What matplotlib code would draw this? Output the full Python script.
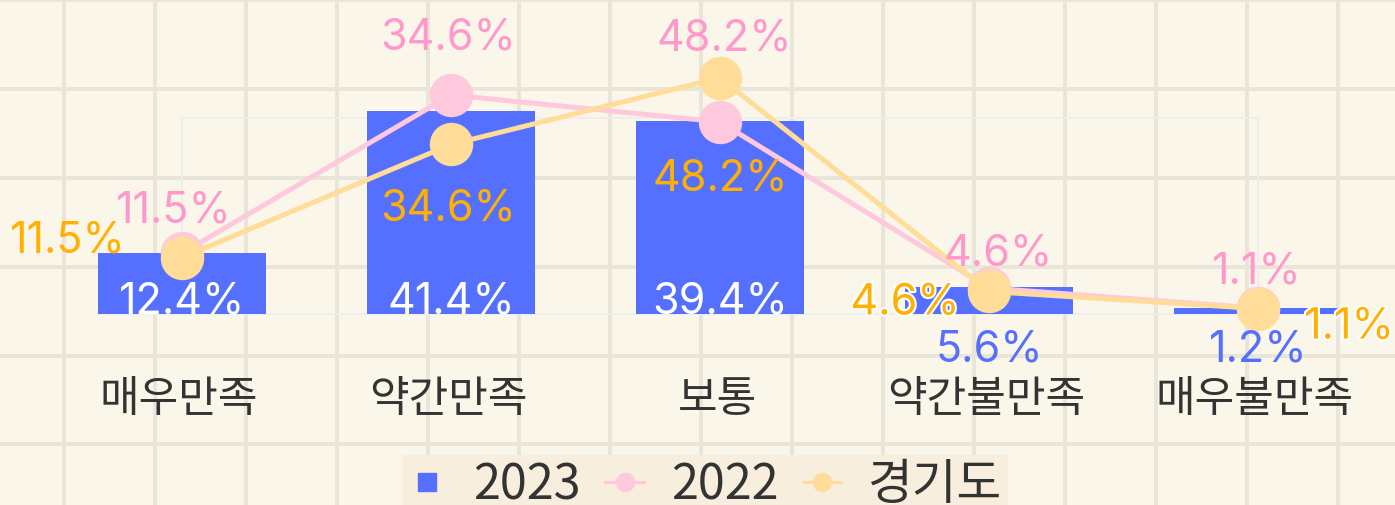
import matplotlib
matplotlib.use('Agg')
import matplotlib.pyplot as plt
from matplotlib.lines import Line2D
from matplotlib.font_manager import FontProperties
import matplotlib.patheffects as pe
import numpy as np

# ---------------- data ----------------
categories = ['매우만족', '약간만족', '보통', '약간불만족', '매우불만족']
values_2023 = [12.4, 41.4, 39.4, 5.6, 1.2]
values_2022 = [12.4, 44.7, 39.2, 5.3, 1.2]
labels_2022 = ['11.5%', '34.6%', '48.2%', '4.6%', '1.1%']
values_gg = [11.5, 34.6, 48.2, 4.6, 1.1]
series_names = ['2023', '2022', '경기도']
frame_top = 40

# ---------------- style ----------------
BG = '#FAF6EA'
GRID = '#EAE5D9'
BAR = '#5570FF'
PINK_LINE = '#FFC9DD'
PINK_TEXT = '#FF99CC'
YEL_LINE = '#FFDD99'
YEL_TEXT = '#FFB000'
DARK = '#333333'
PX = 0.72  # points per pixel at dpi 100

W, H, DPI = 1395, 505, 100
fig = plt.figure(figsize=(W / DPI, H / DPI), dpi=DPI)
fig.patch.set_facecolor(BG)

# background graph-paper grid (pixel units)
bg = fig.add_axes([0, 0, 1, 1], zorder=0)
bg.set_xlim(0, W)
bg.set_ylim(H, 0)
bg.set_facecolor(BG)
bg.set_xticks(np.arange(64, W, 91))
bg.set_yticks(np.arange(-12, H, 91))
bg.grid(True, color=GRID, lw=4 * PX)
bg.tick_params(length=0, labelbottom=False, labelleft=False)
for s in bg.spines.values():
    s.set_visible(False)

# main axes
ax = fig.add_axes([0, 0, 1, 1], zorder=1)
ax.patch.set_alpha(0)
x = np.arange(len(categories))
x0px, step = 182, 269
ax.set_xlim(-x0px / step, (W - x0px) / step)
base_px, ppu = 314, 4.9
ax.set_ylim(-(H - base_px) / ppu, base_px / ppu)
ax.axis('off')

bar_w = 0.625
# light frame
fc = '#EEEEEE'
ax.plot([x[0], x[0], x[-1], x[-1]], [0, frame_top, frame_top, 0], color=fc, lw=2 * PX, zorder=1)
ax.plot([x[0] - bar_w / 2, x[-1] + bar_w / 2], [0, 0], color=fc, lw=2 * PX, zorder=1)

ax.bar(x, values_2023, width=bar_w, color=BAR, zorder=2)
ax.plot(x, values_2022, color=PINK_LINE, lw=5 * PX, marker='o', ms=42 * PX,
        mec=PINK_LINE, zorder=3)
ax.plot(x, values_gg, color=YEL_LINE, lw=5 * PX, marker='o', ms=42 * PX,
        mec=YEL_LINE, zorder=4)

num_font = FontProperties(family='Inter', size=31)

# bar labels
for i, v in enumerate(values_2023):
    if v >= 10:
        ax.annotate(f'{v:.1f}%', (x[i], 0), xytext=(0, 1), textcoords='offset pixels',
                    ha='center', va='baseline', color='white', fontproperties=num_font, zorder=5)
    else:
        ax.annotate(f'{v:.1f}%', (x[i], 0), xytext=(0, -48), textcoords='offset pixels',
                    ha='center', va='baseline', color=BAR, fontproperties=num_font, zorder=5)

pink_off = [(-8, 31), (-3, 45), (4, 71), (9, 23), (-1, 25)]
for i, v in enumerate(values_2022):
    ax.annotate(labels_2022[i], (x[i], v), xytext=pink_off[i], textcoords='offset pixels',
                ha='center', va='baseline', color=PINK_TEXT, fontproperties=num_font, zorder=6)

yel_off = [(-114, 5), (-3, -76), (0, -113), (-84, -23), (91, -30)]
for i, v in enumerate(values_gg):
    t = ax.annotate(f'{v:.1f}%', (x[i], v), xytext=yel_off[i], textcoords='offset pixels',
                    ha='center', va='baseline', color=YEL_TEXT, fontproperties=num_font, zorder=7)
    if i >= 3:
        t.set_path_effects([pe.withStroke(linewidth=3, foreground='white')])

# category labels
cat_font = FontProperties(family='Noto Sans CJK KR', size=31)
for i, c in enumerate(categories):
    ax.annotate(c, (x[i], 0), xytext=(-3, -86), textcoords='offset pixels',
                ha='center', va='center', color=DARK, fontproperties=cat_font)

# legend
handles = [
    Line2D([], [], ls='none', marker='s', ms=18 * PX, color=BAR),
    Line2D([], [], color=PINK_LINE, lw=3 * PX, marker='o', ms=18 * PX),
    Line2D([], [], color=YEL_LINE, lw=3 * PX, marker='o', ms=18 * PX),
]
leg = fig.legend(handles, series_names, loc='upper center',
                 bbox_to_anchor=(705 / W, 1 - 455 / H), ncol=3, frameon=True,
                 facecolor='#F7EEDD', edgecolor='none', fancybox=False, framealpha=1,
                 prop=FontProperties(family='Noto Sans CJK KR', size=35), labelcolor=DARK,
                 handlelength=0.8, handletextpad=0.55, columnspacing=0.5, borderpad=0.12,
                 borderaxespad=0)

fig.savefig('out.png', dpi=DPI, facecolor=BG)
